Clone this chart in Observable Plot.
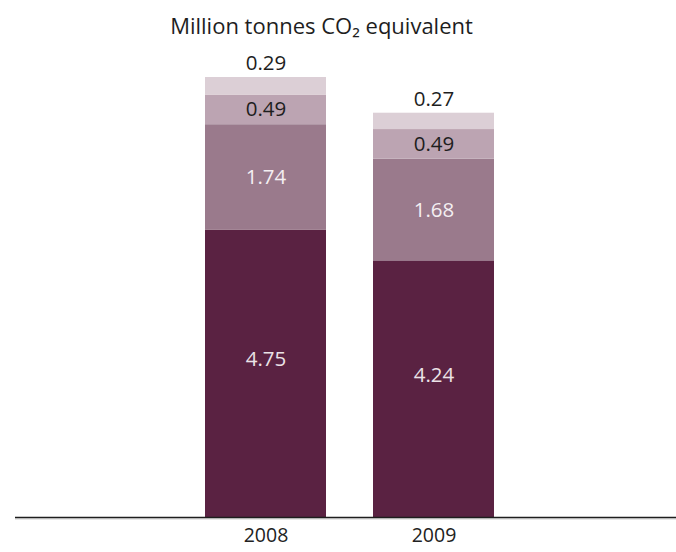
<!DOCTYPE html>
<html><head><meta charset="utf-8">
<script src="https://cdn.jsdelivr.net/npm/d3@7"></script>
<script src="https://cdn.jsdelivr.net/npm/@observablehq/plot@0.6"></script>
<style>
html,body{margin:0;padding:0;background:#fff;}
#chart{width:676px;height:552px;}
</style>
</head><body><div id="chart"></div>
<script>
const years = ["2008", "2009"];
const seriesNames = ["Segment 1", "Segment 2", "Segment 3", "Segment 4"]; // bottom to top
const seg1 = [4.75, 4.24];
const seg2 = [1.74, 1.68];
const seg3 = [0.49, 0.49];
const seg4 = [0.29, 0.27];
const seriesColors = ["#5a2242", "#9a7a8c", "#bca4b2", "#dccfd6"];
const titleText = "Million tonnes CO₂ equivalent";

const seriesValues = [seg1, seg2, seg3, seg4];
const data = [];
years.forEach((y, i) => seriesNames.forEach((s, j) => data.push({year: y, series: s, value: seriesValues[j][i]})));
const fmt = d => d.value.toFixed(2);
const only = name => d => d.series === name ? fmt(d) : null;
const stackOpts = {x: "year", y: "value", z: "series", order: seriesNames};

const plot = Plot.plot({
  width: 676,
  height: 552,
  marginLeft: 15,
  marginRight: 0,
  marginTop: 0,
  marginBottom: 35,
  style: {fontFamily: "'Open Sans', sans-serif", fontSize: "20px", background: "#fff"},
  x: {domain: years, range: [204, 495], paddingInner: 0.278, paddingOuter: 0, axis: null},
  y: {domain: [0, 7.27], range: [517, 77], axis: null},
  color: {domain: seriesNames, range: seriesColors},
  marks: [
    Plot.barY(data, Plot.stackY({...stackOpts, fill: "series"})),
    Plot.ruleY([0], {stroke: "#d0d0d0", strokeWidth: 1, dy: 1.5}),
    Plot.ruleY([0], {stroke: "#1e1e1e", strokeWidth: 1.6}),
    Plot.axisX({tickSize: 0, tickPadding: 11, fontSize: 19.5, fill: "#222", label: null}),
    Plot.text(data, Plot.stackY({...stackOpts, text: only(seriesNames[0]), fill: "#ebe2e7", fontSize: 20.5, dy: -14})),
    Plot.text(data, Plot.stackY({...stackOpts, text: only(seriesNames[1]), fill: "#f4eff2", fontSize: 20.5})),
    Plot.text(data, Plot.stackY({...stackOpts, text: only(seriesNames[2]), fill: "#1e1e1e", fontSize: 20.5})),
    Plot.text(data, Plot.stackY2({...stackOpts, text: only(seriesNames[3]), fill: "#1e1e1e", fontSize: 20.5, dy: -14})),
    Plot.text([titleText], {frameAnchor: "top", lineAnchor: "top", dx: -24.5, dy: 17.5, fontSize: 22, fill: "#1e1e1e"})
  ]
});
document.getElementById("chart").appendChild(plot);
</script>
</body></html>
